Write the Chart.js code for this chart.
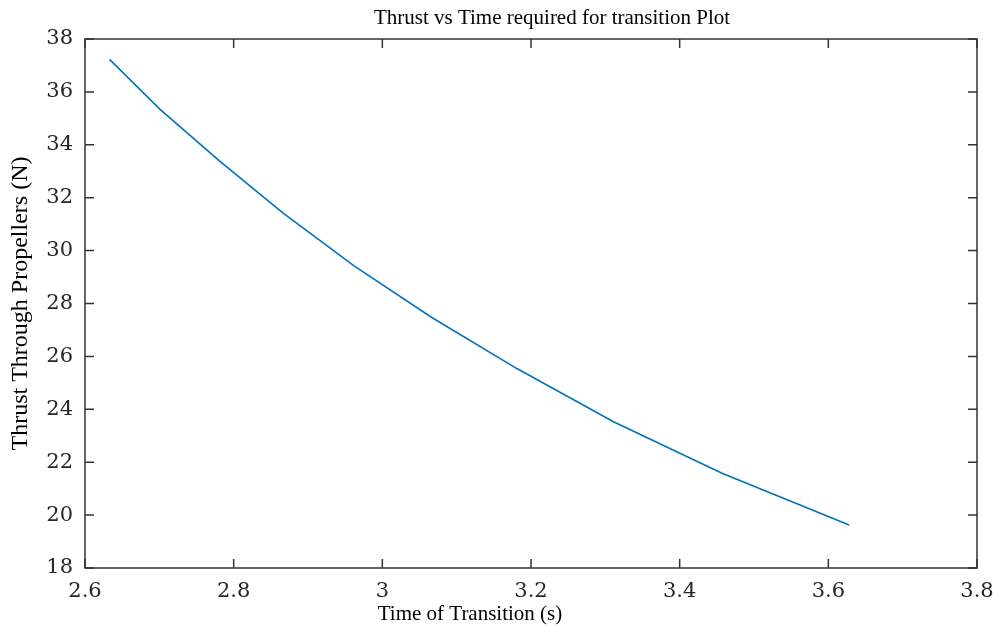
<!DOCTYPE html>
<html>
<head>
<meta charset="utf-8">
<script src="https://cdn.jsdelivr.net/npm/chart.js@4"></script>
<style>
  html, body { margin: 0; padding: 0; background: #fff; }
  #wrap { width: 1000px; height: 628px; }
</style>
</head>
<body>
<div id="wrap"><canvas id="thrustChart" width="1000" height="628"></canvas></div>
<script>
// values
const timeS = [2.633, 2.701, 2.782, 2.867, 2.962, 3.066, 3.181, 3.311, 3.457, 3.628];
const thrustN = [37.23, 35.34, 33.36, 31.41, 29.42, 27.48, 25.54, 23.53, 21.58, 19.63];
const xTicks = [2.6, 2.8, 3.0, 3.2, 3.4, 3.6, 3.8];
const yTicks = [18, 20, 22, 24, 26, 28, 30, 32, 34, 36, 38];

const chartTitle = 'Thrust vs Time required for transition Plot';
const xTitle = 'Time of Transition (s)';
const yTitle = 'Thrust Through Propellers (N)';

const serif = "'Liberation Serif', 'DejaVu Serif', serif";
const tickFont = "'DejaVu Serif', 'Liberation Serif', serif";

// matlab style box with inward ticks on all four sides, plus the titles
// (the exported figure has them a bit off centre, so they are placed by hand)
const boxPlugin = {
    id: 'box',
    afterDraw(chart) {
        const { ctx, chartArea: a, scales } = chart;
        const len = 9;
        ctx.save();
        ctx.strokeStyle = '#333';
        ctx.lineWidth = 1.5;
        ctx.strokeRect(a.left, a.top, a.right - a.left, a.bottom - a.top);
        ctx.beginPath();
        xTicks.forEach(v => {
            const px = scales.x.getPixelForValue(v);
            ctx.moveTo(px, a.bottom); ctx.lineTo(px, a.bottom - len);
            ctx.moveTo(px, a.top); ctx.lineTo(px, a.top + len);
        });
        yTicks.forEach(v => {
            const py = scales.y.getPixelForValue(v);
            ctx.moveTo(a.left, py); ctx.lineTo(a.left + len, py);
            ctx.moveTo(a.right, py); ctx.lineTo(a.right - len, py);
        });
        ctx.stroke();

        ctx.fillStyle = '#000';
        ctx.textAlign = 'center';
        ctx.textBaseline = 'middle';
        ctx.font = '21px ' + serif;
        ctx.fillText(chartTitle, 552, 18);
        ctx.fillText(xTitle, 470, 614);
        ctx.restore();
    }
};

new Chart(document.getElementById('thrustChart'), {
    type: 'line',
    data: {
        datasets: [{
            data: timeS.map((t, i) => ({ x: t, y: thrustN[i] })),
            borderColor: '#0072BD',
            borderWidth: 1.6,
            pointRadius: 0,
            tension: 0,
            fill: false
        }]
    },
    options: {
        responsive: false,
        animation: false,
        layout: { padding: { left: 0, right: 23, top: 39, bottom: 0 } },
        plugins: {
            legend: { display: false },
            tooltip: { enabled: false },
            title: { display: false }
        },
        scales: {
            x: {
                type: 'linear',
                min: 2.6,
                max: 3.8,
                afterBuildTicks: s => { s.ticks = xTicks.map(v => ({ value: v })); },
                afterFit: s => { s.height = 60; s.paddingRight = 0; s.paddingLeft = 0; },
                grid: { display: false, drawTicks: false },
                border: { display: false },
                ticks: {
                    color: '#262626',
                    padding: 11,
                    maxRotation: 0,
                    font: { family: tickFont, size: 21 },
                    callback: v => String(Math.round(v * 10) / 10)
                }
            },
            y: {
                min: 18,
                max: 38,
                afterBuildTicks: s => { s.ticks = yTicks.map(v => ({ value: v })); },
                afterFit: s => { s.width = 85; },
                grid: { display: false, drawTicks: false },
                border: { display: false },
                ticks: {
                    color: '#262626',
                    padding: 12,
                    font: { family: tickFont, size: 21 }
                },
                title: {
                    display: true,
                    text: yTitle,
                    color: '#000',
                    font: { family: serif, size: 24 },
                    padding: { top: 6, bottom: 0 }
                }
            }
        }
    },
    plugins: [boxPlugin]
});
</script>
</body>
</html>
